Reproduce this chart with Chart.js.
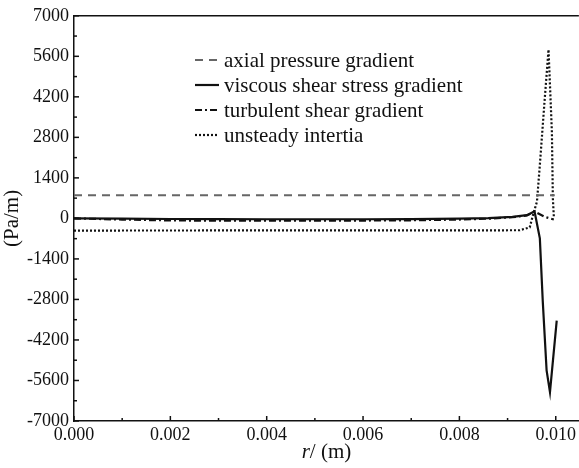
<!DOCTYPE html>
<html>
<head>
<meta charset="utf-8">
<script src="https://cdn.jsdelivr.net/npm/chart.js@4"></script>
<style>
  html, body { margin: 0; padding: 0; background: #fff; overflow: hidden; }
  #wrap { width: 579px; height: 468px; }
</style>
</head>
<body>
<div id="wrap"><canvas id="chart" width="579" height="468"></canvas></div>
<script>
// values (r in metres, gradients in Pa/m)
const axialR = [0, 0.00998];
const axialVals = [800, 800];

const viscousR = [0, 0.001, 0.002, 0.003, 0.004, 0.005, 0.006, 0.007, 0.008, 0.0086, 0.0091, 0.0094, 0.00956, 0.00967, 0.00973, 0.00981, 0.00988, 0.01002];
const viscousVals = [0, -10, -20, -25, -30, -30, -30, -25, -10, 10, 50, 110, 240, -690, -2850, -5250, -6000, -3530];

const turbulentR = [0, 0.001, 0.002, 0.003, 0.004, 0.005, 0.006, 0.007, 0.008, 0.0086, 0.0091, 0.0094, 0.00956, 0.00976, 0.00996];
const turbulentVals = [0, -40, -70, -80, -80, -80, -75, -65, -40, -10, 40, 100, 240, 60, -40];

const unsteadyR = [0, 0.00925, 0.00946, 0.00952, 0.00961, 0.00967, 0.00977, 0.00985, 0.00992, 0.00994, 0.00996];
const unsteadyVals = [-420, -410, -310, 70, 580, 1850, 4100, 5830, 2980, 690, 70];

const seriesLabels = [
  "axial pressure gradient",
  "viscous shear stress gradient",
  "turbulent shear gradient",
  "unsteady intertia"
];

const yTicks = [-7000, -5600, -4200, -2800, -1400, 0, 1400, 2800, 4200, 5600, 7000];
const xTicks = [0, 0.002, 0.004, 0.006, 0.008, 0.010];

const serif = '"Liberation Serif", "DejaVu Serif", serif';
const ink = "#111";

function toPoints(xs, ys) {
  return xs.map((x, i) => ({ x: x, y: ys[i] }));
}

// inward ticks (major + minor), top frame line, legend and the x title
const decorPlugin = {
  id: "decor",
  afterDraw(chart) {
    const ctx = chart.ctx;
    const area = chart.chartArea;
    const xs = chart.scales.x;
    const ys = chart.scales.y;
    ctx.save();
    ctx.strokeStyle = ink;
    ctx.lineWidth = 1.5;

    // top frame
    ctx.beginPath();
    ctx.moveTo(area.left, area.top);
    ctx.lineTo(area.right, area.top);
    ctx.stroke();

    // y ticks
    for (let i = 0; i < yTicks.length; i++) {
      const py = ys.getPixelForValue(yTicks[i]);
      ctx.beginPath();
      ctx.moveTo(area.left, py);
      ctx.lineTo(area.left + 5, py);
      ctx.stroke();
      if (i < yTicks.length - 1) {
        const my = ys.getPixelForValue((yTicks[i] + yTicks[i + 1]) / 2);
        ctx.beginPath();
        ctx.moveTo(area.left, my);
        ctx.lineTo(area.left + 3, my);
        ctx.stroke();
      }
    }
    // x ticks
    for (let i = 0; i < xTicks.length; i++) {
      const px = xs.getPixelForValue(xTicks[i]);
      ctx.beginPath();
      ctx.moveTo(px, area.bottom);
      ctx.lineTo(px, area.bottom - 5);
      ctx.stroke();
      const mid = i < xTicks.length - 1 ? (xTicks[i] + xTicks[i + 1]) / 2 : xTicks[i] + 0.001;
      const mx = xs.getPixelForValue(mid);
      if (mx < area.right) {
        ctx.beginPath();
        ctx.moveTo(mx, area.bottom);
        ctx.lineTo(mx, area.bottom - 3);
        ctx.stroke();
      }
    }

    // legend inside the plot
    ctx.font = "21px " + serif;
    ctx.textBaseline = "middle";
    ctx.fillStyle = ink;
    chart.data.datasets.forEach((ds, i) => {
      const y = 60 + i * 25;
      ctx.save();
      ctx.strokeStyle = ds.borderColor;
      ctx.lineWidth = ds.borderWidth;
      ctx.setLineDash(ds.borderDash || []);
      ctx.beginPath();
      ctx.moveTo(195, y);
      ctx.lineTo(219, y);
      ctx.stroke();
      ctx.restore();
      ctx.fillText(ds.label, 224, y + 1);
    });

    // x title: italic r
    const cx = (area.left + area.right) / 2;
    ctx.textBaseline = "alphabetic";
    ctx.font = "italic 21px " + serif;
    const rW = ctx.measureText("r").width;
    ctx.font = "21px " + serif;
    const restW = ctx.measureText("/ (m)").width;
    const startX = cx - (rW + restW) / 2;
    ctx.font = "italic 21px " + serif;
    ctx.fillText("r", startX, 458);
    ctx.font = "21px " + serif;
    ctx.fillText("/ (m)", startX + rW, 458);
    ctx.restore();
  }
};

document.addEventListener("DOMContentLoaded", function () {
  const ctx = document.getElementById("chart").getContext("2d");

  new Chart(ctx, {
    type: "line",
    data: {
      datasets: [
        {
          label: seriesLabels[0],
          data: toPoints(axialR, axialVals),
          borderColor: "#666",
          borderWidth: 1.8,
          borderDash: [8, 6]
        },
        {
          label: seriesLabels[1],
          data: toPoints(viscousR, viscousVals),
          borderColor: ink,
          borderWidth: 2.2
        },
        {
          label: seriesLabels[2],
          data: toPoints(turbulentR, turbulentVals),
          borderColor: ink,
          borderWidth: 2.2,
          borderDash: [7, 3, 2, 3]
        },
        {
          label: seriesLabels[3],
          data: toPoints(unsteadyR, unsteadyVals),
          borderColor: ink,
          borderWidth: 2.2,
          borderDash: [2, 2]
        }
      ]
    },
    options: {
      responsive: false,
      animation: false,
      layout: { padding: { top: 13, right: 0, left: 0, bottom: 0 } },
      elements: {
        point: { radius: 0 },
        line: { tension: 0, fill: false }
      },
      plugins: {
        legend: { display: false },
        tooltip: { enabled: false }
      },
      scales: {
        x: {
          type: "linear",
          min: 0,
          max: 0.01048,
          afterFit: (s) => { s.height = 47; },
          afterBuildTicks: (s) => { s.ticks = xTicks.map((v) => ({ value: v })); },
          ticks: {
            font: { family: serif, size: 18 },
            color: ink,
            padding: 3,
            maxRotation: 0,
            callback: (v) => v.toFixed(3)
          },
          grid: { display: false, drawTicks: false },
          border: { display: true, color: ink, width: 1.5 }
        },
        y: {
          min: -7000,
          max: 7000,
          afterFit: (s) => { s.width = 74; },
          afterBuildTicks: (s) => { s.ticks = yTicks.map((v) => ({ value: v })); },
          ticks: {
            font: { family: serif, size: 18 },
            color: ink,
            padding: 5,
            callback: (v) => String(v)
          },
          title: {
            display: true,
            text: "(Pa/m)",
            font: { family: serif, size: 21 },
            color: ink,
            padding: { top: 0, bottom: 0 }
          },
          grid: { display: false, drawTicks: false },
          border: { display: true, color: ink, width: 1.5 }
        }
      }
    },
    plugins: [decorPlugin]
  });
});
</script>
</body>
</html>
